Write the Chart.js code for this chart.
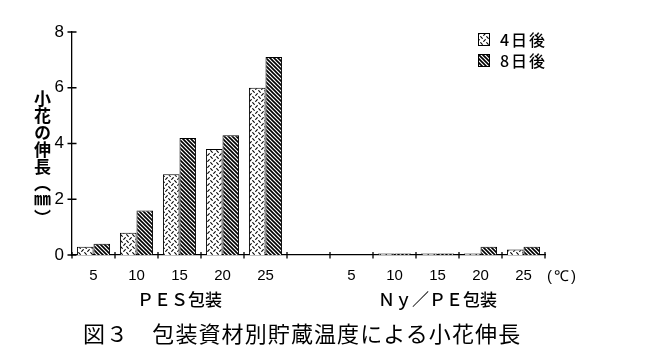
<!DOCTYPE html>
<html><head><meta charset="utf-8">
<script src="https://cdn.jsdelivr.net/npm/chart.js@4"></script>
<style>
html,body{margin:0;padding:0;background:#fff;}
#wrap{position:relative;width:655px;height:359px;overflow:hidden;}
#c{position:absolute;left:0;top:0;}
.t{position:absolute;color:#000;font-family:"Noto Sans CJK JP";white-space:nowrap;}
#ytitle{left:33px;top:90px;writing-mode:vertical-rl;font-size:17px;font-weight:700;letter-spacing:0px;line-height:18px;}
#unit{left:547px;top:265px;font-family:"Liberation Sans";font-size:15px;letter-spacing:2px;}
#cap{left:83px;top:317px;font-size:22px;letter-spacing:1.1px;line-height:30px;}
</style></head><body>
<div id="wrap"><canvas id="c" width="655" height="359"></canvas>
<div class="t" id="ytitle">小花の伸長（㎜）</div>
<div class="t" id="unit">(℃)</div>
<div class="t" id="cap">図３　包装資材別貯蔵温度による小花伸長</div>
</div>
<script>
const categories = ['5','10','15','20','25','','5','10','15','20','25'];
const groupLabels = ['','','ＰＥＳ包装','','','','','','Ｎｙ／ＰＥ包装','',''];
const seriesLabels = ['4日後','8日後'];
const day4 = [0.3,0.8,2.9,3.8,6.0,null,0,0.05,0.05,0.05,0.2];
const day8 = [0.4,1.6,4.2,4.3,7.1,null,0,0.05,0.05,0.3,0.3];
const yMin = 0, yMax = 8, yStep = 2;

function makePattern(kind){
  const c = document.createElement('canvas');
  const g = c.getContext('2d');
  if (kind === 'dots'){
    c.width = 6; c.height = 6;
    g.fillStyle = '#fff'; g.fillRect(0,0,6,6);
    g.strokeStyle = '#000'; g.lineWidth = 1.1; g.lineCap = 'round';
    g.beginPath();
    g.moveTo(0.7,0.7); g.lineTo(2.3,2.3);
    g.moveTo(3.7,5.3); g.lineTo(5.3,3.7);
    g.stroke();
  } else {
    c.width = 4; c.height = 4;
    g.fillStyle = '#fff'; g.fillRect(0,0,4,4);
    g.strokeStyle = '#000'; g.lineWidth = 1.6;
    g.beginPath();
    g.moveTo(-1,-1); g.lineTo(5,5);
    g.moveTo(-1,3); g.lineTo(1,5);
    g.moveTo(3,-1); g.lineTo(5,1);
    g.stroke();
  }
  return g.createPattern(c,'repeat');
}
const pat4 = makePattern('dots');
const pat8 = makePattern('lines');

Chart.defaults.font.family = 'Liberation Sans';
Chart.defaults.color = '#000';

const tickPlugin = {
  id:'ticks',
  afterDraw(chart){
    const ctx = chart.ctx, xs = chart.scales.x, ys = chart.scales.y;
    ctx.save();
    ctx.strokeStyle = '#000'; ctx.lineWidth = 1.3;
    const step = xs.getPixelForValue(1) - xs.getPixelForValue(0);
    const n = categories.length;
    ctx.beginPath();
    for (let i=0;i<=n;i++){
      const x = xs.getPixelForValue(0) - step/2 + i*step;
      ctx.moveTo(x, xs.top-3); ctx.lineTo(x, xs.top+3.5);
    }
    ys.ticks.forEach(t=>{
      const y = ys.getPixelForValue(t.value);
      ctx.moveTo(ys.right-4.5, y); ctx.lineTo(ys.right+4.5, y);
    });
    ctx.stroke();
    ctx.restore();
  }
};

const legendPlugin = {
  id:'lg',
  afterDraw(chart){
    const ctx = chart.ctx, ca = chart.chartArea;
    ctx.save();
    chart.data.datasets.forEach((ds,i)=>{
      const bx = ca.right - 67, by = ca.top + 1 + i*21;
      ctx.fillStyle = ds.backgroundColor;
      ctx.fillRect(bx, by, 12, 13);
      ctx.strokeStyle = '#000'; ctx.lineWidth = 1;
      ctx.strokeRect(bx+0.5, by+0.5, 11, 12);
      ctx.fillStyle = '#000';
      ctx.font = '500 16px "Noto Sans CJK JP"';
      if ('letterSpacing' in ctx) ctx.letterSpacing = '2px';
      ctx.textBaseline = 'middle';
      ctx.textAlign = 'left';
      ctx.fillText(ds.label, bx + 22, by + 7);
    });
    ctx.restore();
  }
};

new Chart(document.getElementById('c'), {
  type:'bar',
  data:{
    labels: categories,
    datasets:[
      {label: seriesLabels[0], data: day4, backgroundColor: pat4, borderColor:'#000', borderWidth:1, categoryPercentage:0.77, barPercentage:1.0, xAxisID:'x'},
      {label: seriesLabels[1], data: day8, backgroundColor: pat8, borderColor:'#000', borderWidth:1, categoryPercentage:0.77, barPercentage:1.0, xAxisID:'x'}
    ]
  },
  options:{
    responsive:false,
    animation:false,
    layout:{padding:{top:32,right:110,bottom:48,left:0}},
    plugins:{legend:{display:false}, tooltip:{enabled:false}},
    scales:{
      y:{
        min:yMin, max:yMax,
        ticks:{stepSize:yStep, font:{size:17}, padding:8, color:'#000'},
        grid:{display:false, drawTicks:false},
        border:{display:true, color:'#000', width:1.3},
        afterFit(s){ s.width = 72; }
      },
      x:{
        type:'category',
        weight:0,
        offset:true,
        ticks:{font:{size:15}, padding:12, autoSkip:false, maxRotation:0, color:'#000'},
        grid:{display:false, drawTicks:false, offset:true},
        border:{display:true, color:'#000', width:1.3},
        afterFit(s){ s.height = 30; }
      },
      x2:{
        type:'category',
        position:'bottom',
        weight:1,
        labels: groupLabels,
        offset:true,
        ticks:{font:{size:17, family:'Noto Sans CJK JP', weight:'500'}, padding:4, autoSkip:false, maxRotation:0, color:'#000'},
        grid:{display:false, drawTicks:false},
        border:{display:false},
        afterFit(s){ s.height = 26; }
      }
    }
  },
  plugins:[tickPlugin, legendPlugin]
});
</script>
</body></html>
